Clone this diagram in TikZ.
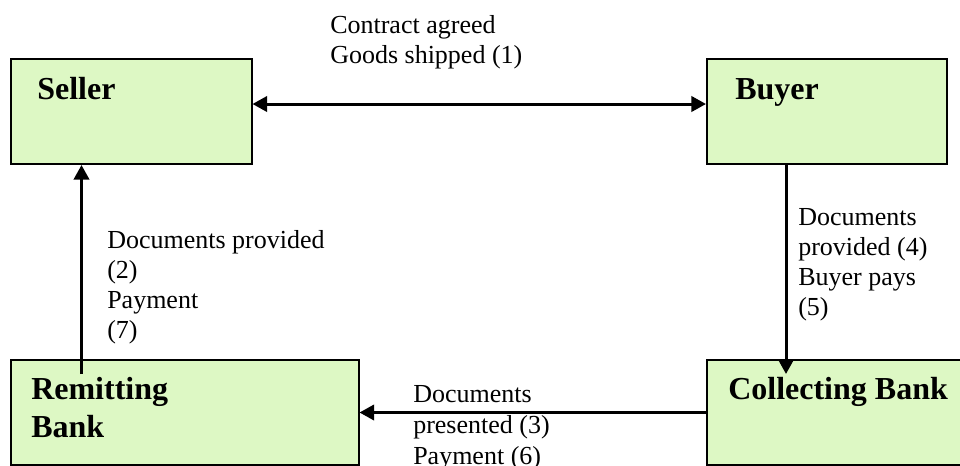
\documentclass[tikz,border=0pt]{standalone}
\usepackage{fontspec}
\setmainfont{Liberation Serif}
\usetikzlibrary{arrows.meta}
\definecolor{boxfill}{RGB}{221,248,196}
\begin{document}
\begin{tikzpicture}[x=0.75pt,y=-0.75pt,
  box/.style={draw=black, line width=1.5pt, fill=boxfill, anchor=north west,
    inner sep=0pt, minimum height=78.75pt},
  title/.style={anchor=base west, inner sep=0pt, font=\fontsize{24}{28.5}\selectfont\bfseries},
  lbl/.style={anchor=base west, inner sep=0pt, font=\fontsize{19.5}{22.5}\selectfont},
  conn/.style={line width=2.25pt, -{Triangle[length=11pt,width=11.5pt]}},
  both/.style={line width=2.25pt, {Triangle[length=11pt,width=11.5pt]}-{Triangle[length=11pt,width=11.5pt]}}
]
\useasboundingbox (0,0) rectangle (960,465);

% boxes
\node[box, minimum width=180.75pt] (seller) at (9.5,58) {};
\node[box, minimum width=180pt] (buyer) at (706,58) {};
\node[box, minimum width=261pt] (remit) at (9.5,359) {};
\node[box, minimum width=195pt] (collect) at (706,359) {};

% box titles
\node[title] (tseller) at (37,99) {Seller};
\node[title] (tbuyer) at (735,99) {Buyer};
\node[title] (tremit) at (31,399) {\begin{tabular}[t]{@{}l@{}}Remitting\\Bank\end{tabular}};
\node[title] (tcollect) at (728,399) {Collecting Bank};

% connectors
\draw[both] ([yshift=5.625pt]seller.east) -- ([yshift=5.625pt]buyer.west);
\draw[conn] ([shift={(54pt,-11.25pt)}]remit.north west) -- ([xshift=54pt]seller.south west);
\draw[conn] ([xshift=60pt]buyer.south west) -- ([shift={(60pt,-11.25pt)}]collect.north west);
\draw[conn] (collect.west) -- (remit.east);

% connector labels
\node[lbl] (l1) at (330,33) {\begin{tabular}[t]{@{}l@{}}Contract agreed\\Goods shipped (1)\end{tabular}};
\node[lbl] (l2) at (107,248) {\begin{tabular}[t]{@{}l@{}}Documents provided\\(2)\\Payment\\(7)\end{tabular}};
\node[lbl] (l3) at (798,225) {\begin{tabular}[t]{@{}l@{}}Documents\\provided (4)\\Buyer pays\\(5)\end{tabular}};
\node[lbl, font=\fontsize{19.5}{23.5}\selectfont] (l4) at (413,402) {\begin{tabular}[t]{@{}l@{}}Documents\\presented (3)\\Payment (6)\end{tabular}};
\end{tikzpicture}
\end{document}
